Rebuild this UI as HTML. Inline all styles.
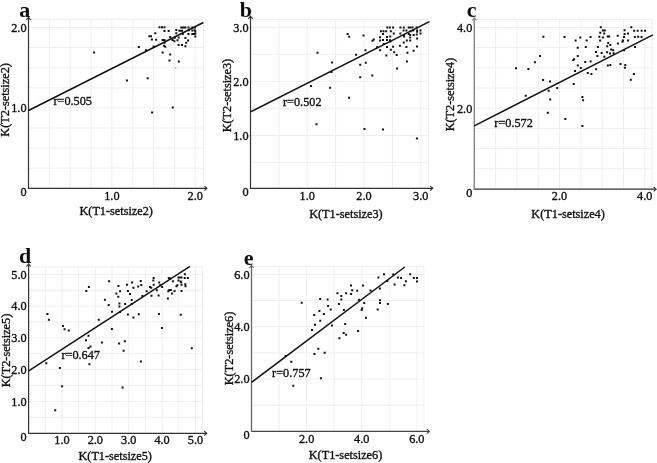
<!DOCTYPE html>
<html><head><meta charset="utf-8"><style>
html,body{margin:0;padding:0;background:#fff;width:657px;height:463px;overflow:hidden}
svg{display:block;will-change:transform}
text{font-family:"Liberation Serif",serif;fill:#111;stroke:#111;stroke-width:0.35px}
.t{font-size:12.25px}
.L{font-size:22px;font-weight:bold;stroke-width:0}
.g{stroke:#efefef;stroke-width:1;fill:none}
</style></head><body>
<svg width="657" height="463" viewBox="0 0 657 463">
<path class="g" d="M49.34 188.3V19.2M70.17 188.3V19.2M91.01 188.3V19.2M111.85 188.3V19.2M132.69 188.3V19.2M153.52 188.3V19.2M174.36 188.3V19.2M195.2 188.3V19.2M203.5 188.3V19.2M28.5 168.2H203.5M28.5 148.1H203.5M28.5 128H203.5M28.5 107.9H203.5M28.5 87.8H203.5M28.5 67.7H203.5M28.5 47.6H203.5M28.5 27.5H203.5M28.5 19.2H203.5"/>
<path d="M27.9 188.3H206.7" stroke="#333" stroke-width="1.2" fill="none"/>
<path d="M204.4 186.1l2.6 2.2l-2.6 2.2" stroke="#333" stroke-width="1.1" fill="none"/>
<path d="M28.5 188.9V17.6" stroke="#333" stroke-width="1.2" fill="none"/>
<path d="M26.3 19.9l2.2 -2.6l2.2 2.6" stroke="#333" stroke-width="1.1" fill="none"/>
<path d="M93.1 51.6h2v2h-2zM125.9 79.6h2v2h-2zM146.7 77.3h2v2h-2zM151.1 111.4h2v2h-2zM171.7 106.5h2v2h-2zM168.5 59.5h2v2h-2zM177.8 60.5h2v2h-2zM137.8 45.9h2v2h-2zM145 49.2h2v2h-2zM148.4 35.2h2v2h-2zM150 35.2h2v2h-2zM150.9 38.6h2v2h-2zM152.6 45.6h2v2h-2zM154.3 32.2h2v2h-2zM155.1 38.8h2v2h-2zM158.5 26.3h2v2h-2zM161 26.3h2v2h-2zM163.5 26.3h2v2h-2zM163.5 30h2v2h-2zM167.7 30h2v2h-2zM161.6 38.9h2v2h-2zM163.5 38.9h2v2h-2zM163.5 41.7h2v2h-2zM163.1 44.8h2v2h-2zM164.3 45.7h2v2h-2zM161.7 51.5h2v2h-2zM169.2 53.6h2v2h-2zM169.2 36.1h2v2h-2zM171.5 38.9h2v2h-2zM173.4 40.2h2v2h-2zM173.8 36.7h2v2h-2zM175.3 28.9h2v2h-2zM175.3 32.3h2v2h-2zM176.5 39.2h2v2h-2zM177.6 36.4h2v2h-2zM177.6 44.1h2v2h-2zM178.4 29.7h2v2h-2zM179.9 29.7h2v2h-2zM181 29.7h2v2h-2zM180.3 26.4h2v2h-2zM181.4 26.4h2v2h-2zM182.5 26.4h2v2h-2zM184.4 26.4h2v2h-2zM187.5 26.4h2v2h-2zM191.3 26.4h2v2h-2zM194 26.4h2v2h-2zM181 44.1h2v2h-2zM181.8 33.1h2v2h-2zM184.4 37.1h2v2h-2zM184.4 45.3h2v2h-2zM185.2 41.7h2v2h-2zM187.1 39.4h2v2h-2zM187.5 33.1h2v2h-2zM187.9 29.3h2v2h-2zM191.3 29.5h2v2h-2zM191.3 32.9h2v2h-2zM192.8 32.9h2v2h-2zM193.6 29.3h2v2h-2zM194.3 30.4h2v2h-2zM194.3 32.7h2v2h-2zM194.3 35.4h2v2h-2z" fill="#111"/>
<rect x="175" y="67" width="1.2" height="2" fill="#b4b4b4"/>
<path d="M28.5 110.5L203.4 22.5" stroke="#111" stroke-width="1.5" fill="none"/>
<text class="t" x="111.85" y="199.7" text-anchor="middle">1.0</text>
<text class="t" x="195.2" y="199.7" text-anchor="middle">2.0</text>
<text class="t" x="26.5" y="112.25" text-anchor="end">1.0</text>
<text class="t" x="26.5" y="31.85" text-anchor="end">2.0</text>
<text class="t" x="23.5" y="196" text-anchor="middle">0</text>
<text class="t" x="116.2" y="214.5" text-anchor="middle">K(T1-setsize2)</text>
<text class="t" transform="translate(9.4 99.9) rotate(-90)" text-anchor="middle">K(T2-setsize2)</text>
<text class="L" x="30.2" y="16.7" text-anchor="end">a</text>
<text class="t" x="53.4" y="105">r=0.505</text>
<path class="g" d="M278.88 188.3V19.4M307.25 188.3V19.4M335.62 188.3V19.4M364 188.3V19.4M392.38 188.3V19.4M420.75 188.3V19.4M428.4 188.3V19.4M250.5 162.42H428.4M250.5 135.4H428.4M250.5 108.38H428.4M250.5 81.35H428.4M250.5 54.32H428.4M250.5 27.3H428.4M250.5 19.4H428.4"/>
<path d="M249.9 188.3H432.5" stroke="#333" stroke-width="1.2" fill="none"/>
<path d="M430.2 186.1l2.6 2.2l-2.6 2.2" stroke="#333" stroke-width="1.1" fill="none"/>
<path d="M250.5 188.9V16.5" stroke="#333" stroke-width="1.2" fill="none"/>
<path d="M248.3 18.8l2.2 -2.6l2.2 2.6" stroke="#333" stroke-width="1.1" fill="none"/>
<path d="M346.6 32.9h2v2h-2zM348.1 35.7h2v2h-2zM316.5 51.7h2v2h-2zM331.1 61.6h2v2h-2zM330.5 71.1h2v2h-2zM309.9 84.9h2v2h-2zM329.1 86.8h2v2h-2zM315.5 123.2h2v2h-2zM355.1 53.8h2v2h-2zM348 96.7h2v2h-2zM363.5 128.1h2v2h-2zM382 128.6h2v2h-2zM415.9 137.6h2v2h-2zM359.2 63.8h2v2h-2zM364.8 61.7h2v2h-2zM359.2 76.3h2v2h-2zM371.3 74.6h2v2h-2zM396.1 67.6h2v2h-2zM405.9 60.5h2v2h-2zM386.3 26.5h2v2h-2zM388.9 26.5h2v2h-2zM392.1 26.5h2v2h-2zM399.4 26.5h2v2h-2zM402.8 26.5h2v2h-2zM407.7 26.5h2v2h-2zM409.2 26.5h2v2h-2zM411.5 26.5h2v2h-2zM415.7 26.5h2v2h-2zM379.9 30.3h2v2h-2zM382.5 30.3h2v2h-2zM385.2 30.3h2v2h-2zM389.8 30.3h2v2h-2zM402.6 29.6h2v2h-2zM405.4 29.6h2v2h-2zM412.3 29.6h2v2h-2zM416.1 29.6h2v2h-2zM419.5 29.6h2v2h-2zM409.6 30.3h2v2h-2zM416.1 30.8h2v2h-2zM382 33h2v2h-2zM392.8 32.6h2v2h-2zM399.4 32.6h2v2h-2zM407.7 33h2v2h-2zM419.5 32.6h2v2h-2zM362.5 34.5h2v2h-2zM403 34.1h2v2h-2zM409.2 34.1h2v2h-2zM412.6 34.1h2v2h-2zM415.7 33.4h2v2h-2zM403.1 35.5h2v2h-2zM379.1 36.3h2v2h-2zM386 36h2v2h-2zM389.2 35.6h2v2h-2zM409.2 36.4h2v2h-2zM416.1 37.4h2v2h-2zM371.5 39.8h2v2h-2zM372.8 38.5h2v2h-2zM379.1 39.4h2v2h-2zM382 39h2v2h-2zM386 39h2v2h-2zM389 39.2h2v2h-2zM389.4 40.5h2v2h-2zM405.8 39.5h2v2h-2zM409.2 39.5h2v2h-2zM402.8 41.4h2v2h-2zM382.8 42.9h2v2h-2zM398.9 44.8h2v2h-2zM386 45.9h2v2h-2zM392.1 45.8h2v2h-2zM376.1 46.3h2v2h-2zM405.4 45.9h2v2h-2zM416 45.6h2v2h-2zM364.5 49.2h2v2h-2zM379.1 49.2h2v2h-2zM389.8 48.7h2v2h-2zM412.6 49.7h2v2h-2zM393.2 51.2h2v2h-2zM406.4 51.7h2v2h-2zM395.7 54h2v2h-2zM385.3 54.6h2v2h-2z" fill="#111"/>
<path d="M250.5 111.9L429.4 21.7" stroke="#111" stroke-width="1.5" fill="none"/>
<text class="t" x="307.25" y="200" text-anchor="middle">1.0</text>
<text class="t" x="364" y="200" text-anchor="middle">2.0</text>
<text class="t" x="420.75" y="200" text-anchor="middle">3.0</text>
<text class="t" x="248.5" y="139.75" text-anchor="end">1.0</text>
<text class="t" x="248.5" y="85.7" text-anchor="end">2.0</text>
<text class="t" x="248.5" y="31.65" text-anchor="end">3.0</text>
<text class="t" x="245.5" y="196" text-anchor="middle">0</text>
<text class="t" x="345.9" y="217.5" text-anchor="middle">K(T1-setsize3)</text>
<text class="t" transform="translate(230.5 95.6) rotate(-90)" text-anchor="middle">K(T2-setsize3)</text>
<text class="L" x="252" y="16.8" text-anchor="end">b</text>
<text class="t" x="283" y="105.5">r=0.502</text>
<path class="g" d="M495.6 189.2V19.4M516.9 189.2V19.4M538.2 189.2V19.4M559.5 189.2V19.4M580.8 189.2V19.4M602.1 189.2V19.4M623.4 189.2V19.4M644.7 189.2V19.4M652 189.2V19.4M474.3 168.72H652M474.3 148.55H652M474.3 128.38H652M474.3 108.2H652M474.3 88.03H652M474.3 67.85H652M474.3 47.68H652M474.3 27.5H652M474.3 19.4H652"/>
<path d="M473.7 189.2H655.9" stroke="#333" stroke-width="1.2" fill="none"/>
<path d="M653.6 187l2.6 2.2l-2.6 2.2" stroke="#333" stroke-width="1.1" fill="none"/>
<path d="M474.3 189.8V18.1" stroke="#858585" stroke-width="1.4" fill="none"/>
<path d="M472.1 20.4l2.2 -2.6l2.2 2.6" stroke="#858585" stroke-width="1.1" fill="none"/>
<path d="M542.4 35.7h2v2h-2zM539.1 55.1h2v2h-2zM533.9 61.2h2v2h-2zM515 67.3h2v2h-2zM527.4 68.1h2v2h-2zM542.1 78.9h2v2h-2zM524.7 94.8h2v2h-2zM563.5 36.1h2v2h-2zM574.6 39.4h2v2h-2zM579.3 36.5h2v2h-2zM585.6 39.5h2v2h-2zM576.7 46.8h2v2h-2zM584.8 46h2v2h-2zM599.8 26.2h2v2h-2zM601.9 29.5h2v2h-2zM603.8 29.5h2v2h-2zM599.2 31.8h2v2h-2zM603.2 32.5h2v2h-2zM589.5 36.1h2v2h-2zM598.3 35.7h2v2h-2zM601.9 36.5h2v2h-2zM606.7 35.6h2v2h-2zM608.2 35.6h2v2h-2zM616.7 34.8h2v2h-2zM599.1 39.4h2v2h-2zM607.2 42h2v2h-2zM609.3 44h2v2h-2zM606.2 45.3h2v2h-2zM596.9 46h2v2h-2zM616.9 42.4h2v2h-2zM621.4 40.7h2v2h-2zM622 39.5h2v2h-2zM627 39.5h2v2h-2zM623 36.1h2v2h-2zM623.6 32.9h2v2h-2zM627 32.5h2v2h-2zM623.6 29.3h2v2h-2zM630.3 26.2h2v2h-2zM633.1 29.7h2v2h-2zM636.6 29.7h2v2h-2zM640.6 29.7h2v2h-2zM644.1 29.7h2v2h-2zM633.8 36.1h2v2h-2zM637.2 35.7h2v2h-2zM640.6 36.1h2v2h-2zM634 46h2v2h-2zM610.2 48.5h2v2h-2zM612.2 49.3h2v2h-2zM595 51h2v2h-2zM600.6 51.9h2v2h-2zM606.1 51.3h2v2h-2zM609 52.6h2v2h-2zM612.6 52.3h2v2h-2zM623.1 49.3h2v2h-2zM576.8 55.1h2v2h-2zM596.4 54.9h2v2h-2zM603.3 55.7h2v2h-2zM572.3 59h2v2h-2zM573.1 58.2h2v2h-2zM584.2 61h2v2h-2zM589.6 60.4h2v2h-2zM576.8 64.6h2v2h-2zM579.8 67h2v2h-2zM574 70.1h2v2h-2zM595.1 68.2h2v2h-2zM606.8 64.6h2v2h-2zM609.3 64h2v2h-2zM586.8 72h2v2h-2zM590.4 73.1h2v2h-2zM549 80.5h2v2h-2zM572.7 83.1h2v2h-2zM556.2 87.1h2v2h-2zM547.6 89.7h2v2h-2zM581.4 95.9h2v2h-2zM582.1 99.2h2v2h-2zM549.2 98.4h2v2h-2zM546.8 111.8h2v2h-2zM564.3 117.9h2v2h-2zM581.4 125.1h2v2h-2zM619.5 63h2v2h-2zM624.3 63.9h2v2h-2zM623.9 66.8h2v2h-2zM632.9 72.9h2v2h-2zM629.8 78.8h2v2h-2z" fill="#111"/>
<path d="M474.3 125.9L652.9 34.8" stroke="#111" stroke-width="1.5" fill="none"/>
<text class="t" x="559.5" y="200.4" text-anchor="middle">2.0</text>
<text class="t" x="644.7" y="200.4" text-anchor="middle">4.0</text>
<text class="t" x="472.3" y="112.55" text-anchor="end">2.0</text>
<text class="t" x="472.3" y="31.85" text-anchor="end">4.0</text>
<text class="t" x="469.3" y="196.9" text-anchor="middle">0</text>
<text class="t" x="568.1" y="217.5" text-anchor="middle">K(T1-setsize4)</text>
<text class="t" transform="translate(453.8 94.6) rotate(-90)" text-anchor="middle">K(T2-setsize4)</text>
<text class="L" x="476.5" y="16.6" text-anchor="end">c</text>
<text class="t" x="494.3" y="126.6">r=0.572</text>
<path class="g" d="M45.28 433.3V266.9M61.97 433.3V266.9M78.66 433.3V266.9M95.34 433.3V266.9M112.03 433.3V266.9M128.71 433.3V266.9M145.39 433.3V266.9M162.08 433.3V266.9M178.76 433.3V266.9M195.45 433.3V266.9M202.4 433.3V266.9M28.6 417.23H202.4M28.6 401.35H202.4M28.6 385.48H202.4M28.6 369.6H202.4M28.6 353.73H202.4M28.6 337.85H202.4M28.6 321.98H202.4M28.6 306.1H202.4M28.6 290.23H202.4M28.6 274.35H202.4M28.6 266.9H202.4"/>
<path d="M28 433.3H206.5" stroke="#333" stroke-width="1.2" fill="none"/>
<path d="M204.2 431.1l2.6 2.2l-2.6 2.2" stroke="#333" stroke-width="1.1" fill="none"/>
<path d="M28.6 433.9V264.2" stroke="#333" stroke-width="1.2" fill="none"/>
<path d="M26.4 266.5l2.2 -2.6l2.2 2.6" stroke="#333" stroke-width="1.1" fill="none"/>
<path d="M46.4 313h2v2h-2zM47.9 318.7h2v2h-2zM62 325.1h2v2h-2zM63.6 328.2h2v2h-2zM67.8 329.6h2v2h-2zM97.7 318.7h2v2h-2zM87.5 334.8h2v2h-2zM85 339.2h2v2h-2zM87.5 347h2v2h-2zM89.5 345.6h2v2h-2zM100.9 341.4h2v2h-2zM45.3 362.2h2v2h-2zM58.8 367.1h2v2h-2zM88.4 363.3h2v2h-2zM61.1 385.2h2v2h-2zM54.2 409.2h2v2h-2zM121.6 386.5h2v2h-2zM87.9 286h2v2h-2zM85.3 289.9h2v2h-2zM108.1 280.2h2v2h-2zM117.4 285h2v2h-2zM126 283.7h2v2h-2zM131.1 281.4h2v2h-2zM139.7 280h2v2h-2zM140.3 284h2v2h-2zM137.2 285.4h2v2h-2zM132.4 286.7h2v2h-2zM119.1 290.3h2v2h-2zM115.3 292.6h2v2h-2zM126.9 290.1h2v2h-2zM129 293h2v2h-2zM117.3 295.7h2v2h-2zM141.4 294.9h2v2h-2zM152.7 277h2v2h-2zM152.3 279.6h2v2h-2zM152.7 283.8h2v2h-2zM148.9 286.1h2v2h-2zM150.3 286.7h2v2h-2zM158.2 281.4h2v2h-2zM159.2 284.2h2v2h-2zM161.1 286h2v2h-2zM155.9 289.2h2v2h-2zM145.7 290.3h2v2h-2zM167.8 277h2v2h-2zM169.4 277.6h2v2h-2zM171.9 280.2h2v2h-2zM177.4 276.6h2v2h-2zM179 276.6h2v2h-2zM180.5 276.6h2v2h-2zM177.4 279.6h2v2h-2zM179.7 280.4h2v2h-2zM180.1 281.2h2v2h-2zM183.9 273.3h2v2h-2zM183.7 277h2v2h-2zM186.8 277h2v2h-2zM180.5 283.7h2v2h-2zM184.3 283.2h2v2h-2zM184.5 285.2h2v2h-2zM176.3 284.2h2v2h-2zM175.5 285.2h2v2h-2zM173.6 289.9h2v2h-2zM167.3 290.3h2v2h-2zM167.9 289.2h2v2h-2zM169.8 289h2v2h-2zM171.1 292.6h2v2h-2zM180.5 290.1h2v2h-2zM150.5 294.7h2v2h-2zM157.6 294.5h2v2h-2zM103.9 298.7h2v2h-2zM130.7 299h2v2h-2zM107.7 304.1h2v2h-2zM118.4 302.4h2v2h-2zM118.4 305.6h2v2h-2zM124.1 302.9h2v2h-2zM130.7 302.9h2v2h-2zM111 310.8h2v2h-2zM119.1 311.1h2v2h-2zM126.9 313.4h2v2h-2zM132.4 316.5h2v2h-2zM137.8 313.2h2v2h-2zM166.9 297.4h2v2h-2zM157.9 313h2v2h-2zM179.8 313.8h2v2h-2zM160.9 327h2v2h-2zM190.8 347.2h2v2h-2zM139.9 360.5h2v2h-2zM118.1 342.4h2v2h-2zM123.8 340.2h2v2h-2zM122.6 349.7h2v2h-2zM110.9 327.9h2v2h-2z" fill="#111"/>
<path d="M28.7 370.8L189.9 266.4" stroke="#111" stroke-width="1.5" fill="none"/>
<text class="t" x="61.97" y="444" text-anchor="middle">1.0</text>
<text class="t" x="95.34" y="444" text-anchor="middle">2.0</text>
<text class="t" x="128.71" y="444" text-anchor="middle">3.0</text>
<text class="t" x="162.08" y="444" text-anchor="middle">4.0</text>
<text class="t" x="195.45" y="444" text-anchor="middle">5.0</text>
<text class="t" x="26.6" y="405.7" text-anchor="end">1.0</text>
<text class="t" x="26.6" y="373.95" text-anchor="end">2.0</text>
<text class="t" x="26.6" y="342.2" text-anchor="end">3.0</text>
<text class="t" x="26.6" y="310.45" text-anchor="end">4.0</text>
<text class="t" x="26.6" y="278.7" text-anchor="end">5.0</text>
<text class="t" x="23.6" y="441" text-anchor="middle">0</text>
<text class="t" x="115.2" y="460.1" text-anchor="middle">K(T1-setsize5)</text>
<text class="t" transform="translate(9.8 350.5) rotate(-90)" text-anchor="middle">K(T2-setsize5)</text>
<text class="L" x="31.2" y="263" text-anchor="end">d</text>
<text class="t" x="61.4" y="358.9">r=0.647</text>
<path class="g" d="M279.05 431.4V266.4M306.6 431.4V266.4M334.15 431.4V266.4M361.7 431.4V266.4M389.25 431.4V266.4M416.8 431.4V266.4M424 431.4V266.4M251.5 405.23H424M251.5 379.06H424M251.5 352.89H424M251.5 326.72H424M251.5 300.55H424M251.5 274.38H424M251.5 266.4H424"/>
<path d="M250.9 431.4H429.1" stroke="#444" stroke-width="1.2" fill="none"/>
<path d="M426.8 429.2l2.6 2.2l-2.6 2.2" stroke="#444" stroke-width="1.1" fill="none"/>
<path d="M251.5 432V265.7" stroke="#666" stroke-width="1.3" fill="none"/>
<path d="M249.3 268l2.2 -2.6l2.2 2.6" stroke="#666" stroke-width="1.1" fill="none"/>
<path d="M377.4 276.5h2v2h-2zM383 273.3h2v2h-2zM392.2 273.6h2v2h-2zM386.3 280.1h2v2h-2zM396.9 276.5h2v2h-2zM400.1 276.9h2v2h-2zM409.2 273.3h2v2h-2zM412.8 276.9h2v2h-2zM416 276.9h2v2h-2zM416 280.5h2v2h-2zM404.9 280.3h2v2h-2zM393.6 283.4h2v2h-2zM403.4 284.3h2v2h-2zM378.9 287.5h2v2h-2zM369.5 289.4h2v2h-2zM300.7 301.8h2v2h-2zM319.2 297.9h2v2h-2zM326.6 298.4h2v2h-2zM336.4 292.3h2v2h-2zM340.3 295h2v2h-2zM340.3 298.5h2v2h-2zM337.9 302.9h2v2h-2zM327.1 304.9h2v2h-2zM329.7 308.5h2v2h-2zM318.4 310.1h2v2h-2zM322.9 313.1h2v2h-2zM313.2 314h2v2h-2zM319.2 319.8h2v2h-2zM314 323.8h2v2h-2zM311 328.9h2v2h-2zM331 324.5h2v2h-2zM338.4 337.3h2v2h-2zM317.3 347.7h2v2h-2zM313.4 352.9h2v2h-2zM323.7 351.8h2v2h-2zM284.6 355.1h2v2h-2zM290.3 360.7h2v2h-2zM319.9 377.3h2v2h-2zM292.3 384.7h2v2h-2zM350 284.4h2v2h-2zM362 284.4h2v2h-2zM345.1 292.3h2v2h-2zM350.1 293h2v2h-2zM351.2 289.2h2v2h-2zM356.2 289.7h2v2h-2zM357.9 298.8h2v2h-2zM363.2 301.9h2v2h-2zM379 299.3h2v2h-2zM379 301.9h2v2h-2zM386.8 303h2v2h-2zM342.9 309h2v2h-2zM360.7 309h2v2h-2zM361.2 307.3h2v2h-2zM376.7 308.5h2v2h-2zM364.9 316.8h2v2h-2zM344.2 322.9h2v2h-2zM357.1 330.1h2v2h-2zM342.7 332h2v2h-2zM345.1 333.8h2v2h-2z" fill="#111"/>
<path d="M251.5 382.4L404.8 267" stroke="#111" stroke-width="1.5" fill="none"/>
<text class="t" x="306.6" y="442.9" text-anchor="middle">2.0</text>
<text class="t" x="361.7" y="442.9" text-anchor="middle">4.0</text>
<text class="t" x="416.8" y="442.9" text-anchor="middle">6.0</text>
<text class="t" x="249.5" y="383.41" text-anchor="end">2.0</text>
<text class="t" x="249.5" y="331.07" text-anchor="end">4.0</text>
<text class="t" x="249.5" y="278.73" text-anchor="end">6.0</text>
<text class="t" x="246.5" y="439.1" text-anchor="middle">0</text>
<text class="t" x="345.5" y="459.1" text-anchor="middle">K(T1-setsize6)</text>
<text class="t" transform="translate(233.3 348.5) rotate(-90)" text-anchor="middle">K(T2-setsize6)</text>
<text class="L" x="253.6" y="264.7" text-anchor="end">e</text>
<text class="t" x="272.1" y="377.3">r=0.757</text>
</svg></body></html>
